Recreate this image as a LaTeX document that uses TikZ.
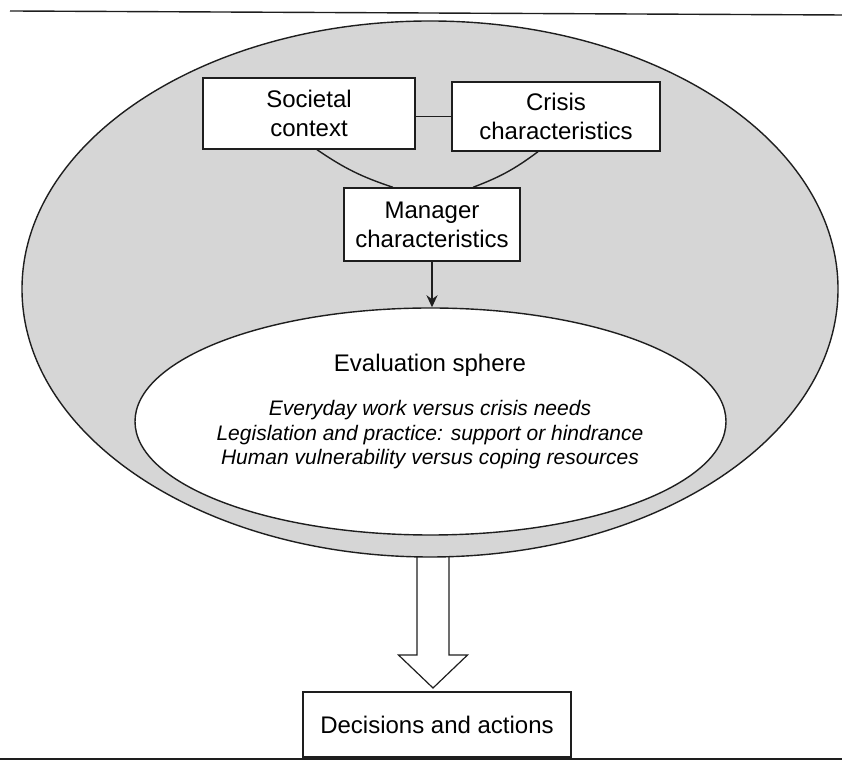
\documentclass[tikz,border=0pt]{standalone}
\usepackage{fontspec}
\setmainfont{Liberation Sans}
\usetikzlibrary{arrows.meta,shapes.geometric}
\definecolor{spherefill}{RGB}{214,214,214}
\definecolor{inkline}{RGB}{30,30,30}
\begin{document}
\begin{tikzpicture}[x=1pt, y=1pt,
    factorbox/.style={draw=inkline, fill=white, line width=1.4pt, align=center,
        inner sep=0pt, font=\fontsize{24}{29}\selectfont},
    linkline/.style={draw=inkline, line width=1.4pt}]
    \useasboundingbox (0,0) rectangle (842,762);

    % 上下两条横线
    \draw[linkline] (10,751) -- (842,747);
    \draw[linkline] (0,3) -- (842,3);

    % 外层大椭圆
    \draw[linkline, fill=spherefill] (430,473) ellipse [x radius=408, y radius=268];
    \coordinate (outbot) at (433,205);

    % 三个因素框
    \node[factorbox, minimum width=212pt, minimum height=71pt] (soc) at (309,648.5)
        {Societal\\context};
    \node[factorbox, minimum width=208pt, minimum height=69pt] (crisis) at (556,645.5)
        {Crisis\\characteristics};
    \node[factorbox, minimum width=176pt, minimum height=73pt] (mgr) at (432,537.5)
        {Manager\\characteristics};

    % 框之间的连线
    \draw[linkline] (soc.east |- crisis.west) -- (crisis.west);
    \draw[linkline] ([xshift=8pt]soc.south) to[bend right=8] ([xshift=-39pt]mgr.north);
    \draw[linkline] ([xshift=-18pt]crisis.south) to[bend left=8] ([xshift=41pt]mgr.north);

    % 内层评估椭圆
    \node[ellipse, draw=inkline, fill=white, line width=1.4pt, inner sep=0pt,
        minimum width=591pt, minimum height=227pt] (eval) at (430.5,340.5) {};
    \node[font=\fontsize{24}{29}\selectfont] (evtitle) at (430,397) {Evaluation sphere};
    \node[align=center, font=\fontsize{21}{24.5}\selectfont\itshape] (evitems) at (430,327)
        {Everyday work versus crisis needs\\
         Legislation and practice: support or hindrance\\
         Human vulnerability versus coping resources};

    % 经理特征指向评估椭圆
    \draw[linkline, line width=2.6pt, -{Stealth[length=12pt, width=11pt]}]
        (mgr.south) -- (mgr.south |- eval.north);

    % 结果框
    \node[factorbox, minimum width=268pt, minimum height=65pt] (dec) at (437,37.5)
        {Decisions and actions};

    % 空心大箭头
    \draw[linkline, line width=1.2pt, line join=miter]
        ([xshift=-16pt]outbot) -- ++(0,-98) -- ++(-18.5,0) -- ++(34.5,-33)
        -- ++(34.5,33) -- ++(-18.5,0) -- ([xshift=16pt]outbot);
\end{tikzpicture}
\end{document}
